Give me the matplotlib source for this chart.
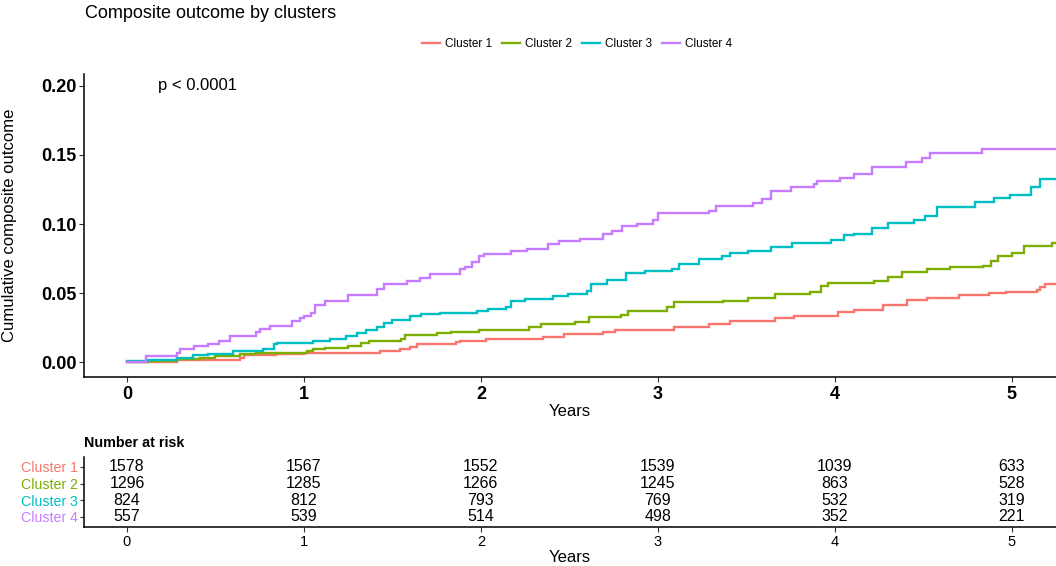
"""
Composite outcome by clusters: cumulative incidence with number-at-risk table.
"""
import matplotlib
matplotlib.use("Agg")
import matplotlib.pyplot as plt
from matplotlib.lines import Line2D

plt.rcParams["font.family"] = ["Liberation Sans", "DejaVu Sans"]

# ── data ──────────────────────────────────────────────────────────────────────
CLUSTERS = ["Cluster 1", "Cluster 2", "Cluster 3", "Cluster 4"]
COLORS = ["#F8766D", "#7CAE00", "#00BFC4", "#C77CFF"]

t_c1 = [0, 0.28, 0.41, 0.64, 0.66, 0.84, 1.00, 1.24, 1.43, 1.54, 1.60, 1.64,
        1.86, 1.88, 2.03, 2.35, 2.47, 2.69, 2.76, 3.09, 3.29, 3.41, 3.66, 3.77,
        4.02, 4.11, 4.27, 4.41, 4.52, 4.70, 4.87, 4.97, 5.14, 5.16, 5.19, 5.25]
v_c1 = [0, 0.0015, 0.002, 0.0034, 0.005, 0.0059, 0.0064, 0.007, 0.0083, 0.0095,
        0.0112, 0.0132, 0.0144, 0.0156, 0.0168, 0.0186, 0.0203, 0.0218, 0.0234,
        0.0254, 0.0278, 0.030, 0.032, 0.0337, 0.0361, 0.038, 0.0418, 0.0449,
        0.0466, 0.0484, 0.0503, 0.051, 0.0522, 0.0547, 0.0564, 0.0564]

t_c2 = [0, 0.12, 0.28, 0.41, 0.50, 0.64, 0.73, 1.015, 1.05, 1.12, 1.25, 1.32,
        1.37, 1.55, 1.57, 1.75, 1.83, 1.99, 2.27, 2.34, 2.53, 2.61, 2.79, 2.83,
        3.05, 3.09, 3.37, 3.51, 3.66, 3.86, 3.92, 3.96, 4.22, 4.30, 4.38, 4.52,
        4.65, 4.84, 4.88, 4.92, 5.00, 5.07, 5.23, 5.25]
v_c2 = [0, 0.001, 0.0022, 0.0035, 0.0045, 0.0059, 0.007, 0.008, 0.0093, 0.0105,
        0.012, 0.0137, 0.0154, 0.0168, 0.0198, 0.021, 0.0222, 0.0237, 0.0259,
        0.0278, 0.0295, 0.0327, 0.0344, 0.0369, 0.0398, 0.0435, 0.0447, 0.0466,
        0.0496, 0.0508, 0.0552, 0.0571, 0.0588, 0.0618, 0.0654, 0.0674, 0.0686,
        0.0698, 0.0735, 0.0767, 0.0789, 0.084, 0.0862, 0.0862]

t_c3 = [0, 0.12, 0.28, 0.375, 0.46, 0.60, 0.77, 0.83, 0.85, 1.05, 1.15, 1.24,
        1.30, 1.35, 1.41, 1.45, 1.50, 1.60, 1.66, 1.77, 1.98, 2.04, 2.14, 2.17,
        2.25, 2.41, 2.49, 2.60, 2.62, 2.71, 2.82, 2.93, 3.08, 3.12, 3.23, 3.36,
        3.41, 3.51, 3.64, 3.76, 3.98, 4.05, 4.11, 4.21, 4.30, 4.45, 4.51, 4.58,
        4.79, 4.90, 4.99, 5.11, 5.16, 5.25]
v_c3 = [0.001, 0.0015, 0.0035, 0.005, 0.0063, 0.0083, 0.010, 0.0132, 0.0137,
        0.0156, 0.017, 0.019, 0.0215, 0.0234, 0.0259, 0.0283, 0.0308, 0.0332,
        0.035, 0.036, 0.0374, 0.0388, 0.040, 0.0442, 0.0456, 0.0478, 0.0495,
        0.0515, 0.0564, 0.0596, 0.0645, 0.066, 0.0674, 0.071, 0.0747, 0.0771,
        0.079, 0.0808, 0.0833, 0.0862, 0.0886, 0.0918, 0.093, 0.0972, 0.101,
        0.1028, 0.106, 0.1126, 0.1157, 0.1187, 0.121, 0.127, 0.1326, 0.1326]

t_c4 = [0, 0.11, 0.28, 0.30, 0.38, 0.46, 0.52, 0.58, 0.73, 0.75, 0.81, 0.93,
        0.98, 1.00, 1.04, 1.06, 1.12, 1.25, 1.41, 1.45, 1.58, 1.655, 1.71, 1.88,
        1.91, 1.95, 1.99, 2.02, 2.17, 2.26, 2.38, 2.44, 2.56, 2.69, 2.74, 2.80,
        2.88, 2.97, 3.00, 3.29, 3.33, 3.54, 3.59, 3.64, 3.75, 3.88, 3.90, 4.03,
        4.11, 4.21, 4.40, 4.49, 4.54, 4.83, 5.25]
v_c4 = [0, 0.0046, 0.007, 0.0095, 0.012, 0.0136, 0.0155, 0.0193, 0.022, 0.0244,
        0.026, 0.030, 0.032, 0.0335, 0.036, 0.0418, 0.044, 0.049, 0.0527, 0.0569,
        0.0588, 0.0608, 0.0642, 0.0674, 0.069, 0.0723, 0.0767, 0.0784, 0.0804,
        0.082, 0.0857, 0.0877, 0.0894, 0.093, 0.095, 0.0984, 0.100, 0.1028,
        0.1077, 0.1094, 0.1133, 0.115, 0.118, 0.124, 0.1265, 0.129, 0.1314,
        0.1333, 0.1363, 0.1414, 0.1448, 0.148, 0.1516, 0.1546, 0.1546]

TIMES = [t_c1, t_c2, t_c3, t_c4]
VALUES = [v_c1, v_c2, v_c3, v_c4]

RISK_YEARS = [0, 1, 2, 3, 4, 5]
RISK_C1 = [1578, 1567, 1552, 1539, 1039, 633]
RISK_C2 = [1296, 1285, 1266, 1245, 863, 528]
RISK_C3 = [824, 812, 793, 769, 532, 319]
RISK_C4 = [557, 539, 514, 498, 352, 221]
RISK = [RISK_C1, RISK_C2, RISK_C3, RISK_C4]

Y_TICKS = [0.00, 0.05, 0.10, 0.15, 0.20]

# ── figure ────────────────────────────────────────────────────────────────────
W, H = 1056, 566
fig = plt.figure(figsize=(W / 100, H / 100), dpi=100)
fig.patch.set_facecolor("white")

XLIM = (-0.243, 5.25)


def style_axes(ax):
    for s in ["top", "right"]:
        ax.spines[s].set_visible(False)
    for s in ["left", "bottom"]:
        ax.spines[s].set_linewidth(1.1)
        ax.spines[s].set_color("black")
    ax.tick_params(direction="out", length=3.5, width=0.8, color="#333333")


# ── main curve panel ──────────────────────────────────────────────────────────
ax = fig.add_axes([84 / W, (H - 377) / H, (W - 84) / W, 303 / H])
style_axes(ax)
for t, v, col in zip(TIMES, VALUES, COLORS):
    ax.step(t, v, where="post", color=col, linewidth=1.7, solid_joinstyle="miter")

ax.set_xlim(*XLIM)
ax.set_ylim(-0.0106, 0.2085)
ax.set_xticks(RISK_YEARS)
ax.set_xticklabels([str(x) for x in RISK_YEARS], fontsize=13, fontweight="bold")
ax.set_yticks(Y_TICKS)
ax.set_yticklabels([f"{y:.2f}" for y in Y_TICKS], fontsize=13, fontweight="bold")
ax.tick_params(axis="x", pad=3)
ax.tick_params(axis="y", pad=2)

ax.text(0.175, 0.2, "p < 0.0001", fontsize=12, va="center", ha="left")

fig.text(9.5 / W, 1 - 225.5 / H, "Cumulative composite outcome", rotation=90,
         fontsize=12, ha="center", va="center")
fig.text(570 / W, 1 - 412 / H, "Years", fontsize=12, ha="center", va="center")

# title and legend
fig.text(85 / W, 1 - 13 / H, "Composite outcome by clusters", fontsize=13,
         ha="left", va="center")
handles = [Line2D([0], [0], color=c, linewidth=1.7) for c in COLORS]
fig.legend(handles, CLUSTERS, ncol=4, loc="center",
           bbox_to_anchor=(577 / W, 1 - 44 / H), frameon=False, fontsize=8.5,
           handlelength=1.5, handletextpad=0.4, columnspacing=0.9)

# ── risk table ────────────────────────────────────────────────────────────────
tab = fig.add_axes([84 / W, (H - 527) / H, (W - 84) / W, 70 / H])
style_axes(tab)
rows = [4, 3, 2, 1]
for r, counts in zip(rows, RISK):
    for x, n in zip(RISK_YEARS, counts):
        tab.text(x, r, str(n), fontsize=11.5, ha="center", va="center")
tab.set_xlim(*XLIM)
tab.set_ylim(0.38, 4.6)
tab.set_yticks(rows)
tab.set_yticklabels(CLUSTERS, fontsize=10.2)
for lab, col in zip(tab.get_yticklabels(), COLORS):
    lab.set_color(col)
tab.set_xticks(RISK_YEARS)
tab.set_xticklabels([str(x) for x in RISK_YEARS], fontsize=10.5)
tab.tick_params(axis="y", pad=1.5, length=3)
tab.tick_params(axis="x", pad=2.5)

fig.text(84 / W, 1 - 443 / H, "Number at risk", fontsize=10.3, fontweight="bold",
         ha="left", va="center")
fig.text(570 / W, 1 - 557 / H, "Years", fontsize=12, ha="center", va="center")

fig.savefig("out.png", dpi=100, facecolor="white")
